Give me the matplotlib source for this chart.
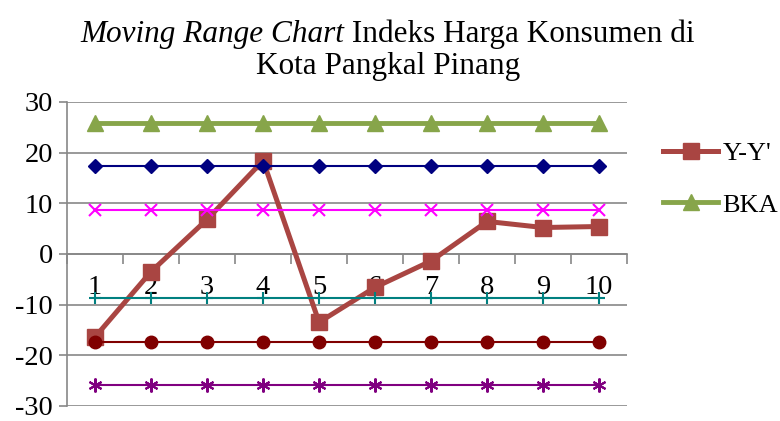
import matplotlib.pyplot as plt
from matplotlib.lines import Line2D

periods = list(range(1, 11))
y_diff = [-16.4, -3.5, 6.8, 18.4, -13.5, -6.6, -1.4, 6.4, 5.2, 5.4]
bka = [25.9] * 10
upper_2s = [17.4] * 10
upper_1s = [8.7] * 10
lower_1s = [-8.7] * 10
lower_2s = [-17.4] * 10
bkb = [-25.9] * 10
y_ticks = [-30, -20, -10, 0, 10, 20, 30]

plt.rcParams['font.family'] = ['Liberation Serif', 'DejaVu Serif']
plt.rcParams['axes.unicode_minus'] = False

fig = plt.figure(figsize=(7.8, 4.21), dpi=100)
ax = fig.add_axes([0.086, 0.036, 0.718, 0.722])

ax.plot(periods, y_diff, color='#A94542', lw=3.6, marker='s', ms=11, zorder=3, label="Y-Y'")
ax.plot(periods, bka, color='#87A54A', lw=3.5, marker='^', ms=12, zorder=4, label='BKA')
ax.plot(periods, upper_2s, color='#000080', lw=1.5, marker='D', ms=7, zorder=4)
ax.plot(periods, upper_1s, color='#FF00FF', lw=1.5, marker='x', ms=9, mew=1.5, zorder=4)
ax.plot(periods, lower_1s, color='#008080', lw=1.5, marker='+', ms=9, mew=1.5, zorder=4)
ax.plot(periods, lower_2s, color='#800000', lw=1.5, marker='o', ms=9, zorder=4)
ax.plot(periods, bkb, color='#800080', lw=1.5, marker=(6, 2, 0), ms=10, mew=1.5, zorder=4)

ax.set_xlim(0.5, 10.5)
ax.set_ylim(-30, 30)
ax.set_yticks(y_ticks)
ax.yaxis.grid(True, color='#878787', lw=1.2)
ax.set_axisbelow(True)

for s in ['top', 'right']:
    ax.spines[s].set_visible(False)
ax.spines['left'].set_color('#878787')
ax.spines['left'].set_linewidth(1.2)
ax.spines['bottom'].set_position(('data', 0))
ax.spines['bottom'].set_color('#878787')
ax.spines['bottom'].set_linewidth(1.2)

ax.set_xticks([i + 0.5 for i in range(0, 11)])
ax.set_xticklabels([])
ax.set_xticks(periods, minor=True)
ax.set_xticklabels([str(p) for p in periods], minor=True, fontsize=20.5)
ax.tick_params(axis='x', which='major', direction='out', length=7, width=1.2, color='#878787')
ax.tick_params(axis='x', which='minor', length=0, pad=15)
ax.tick_params(axis='y', direction='out', length=6, width=1.2, color='#878787', labelsize=20.5, pad=4)

handles = [Line2D([], [], color='#A94542', lw=3.6, marker='s', ms=11),
           Line2D([], [], color='#87A54A', lw=3.5, marker='^', ms=12)]
fig.legend(handles, ["Y-Y'", 'BKA'], loc='center left', bbox_to_anchor=(0.85, 0.574),
           frameon=False, fontsize=19, handlelength=2.1, handletextpad=0.15,
           labelspacing=1.05, borderaxespad=0, borderpad=0)

# title with italic part
fig.canvas.draw()
renderer = fig.canvas.get_renderer()
t1 = fig.text(0, 0.918, 'Moving Range Chart', fontsize=22.5, style='italic', va='center')
t2 = fig.text(0, 0.918, ' Indeks Harga Konsumen di', fontsize=22.5, va='center')
w1 = t1.get_window_extent(renderer).width / fig.bbox.width
w2 = t2.get_window_extent(renderer).width / fig.bbox.width
x0 = 0.497 - (w1 + w2) / 2
t1.set_x(x0)
t2.set_x(x0 + w1)
fig.text(0.497, 0.842, 'Kota Pangkal Pinang', fontsize=22.5, ha='center', va='center')

fig.savefig('out.png', dpi=100)
